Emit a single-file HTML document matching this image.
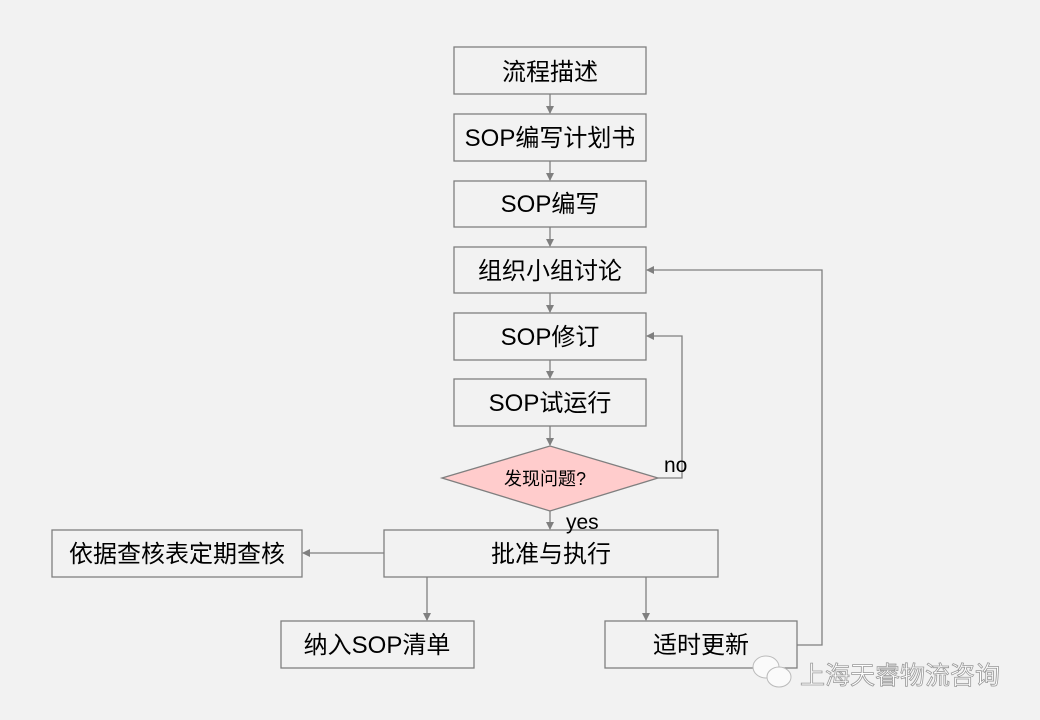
<!DOCTYPE html>
<html><head><meta charset="utf-8"><style>
html,body{margin:0;padding:0;background:#f2f2f2;}
svg{display:block;}
text{font-family:"Liberation Sans","Noto Sans CJK SC",sans-serif;fill:#000;}
</style></head><body>
<svg width="1040" height="720" viewBox="0 0 1040 720" xmlns="http://www.w3.org/2000/svg">
<defs><marker id="a" markerWidth="8" markerHeight="8" refX="7" refY="4" orient="auto" markerUnits="userSpaceOnUse"><path d="M0,0 L8,4 L0,8 z" fill="#7f7f7f"/></marker></defs>
<rect width="1040" height="720" fill="#f2f2f2"/>
<g fill="#f2f2f2" stroke="#7f7f7f" stroke-width="1.3">
<rect x="454" y="47" width="192" height="47"/>
<rect x="454" y="114" width="192" height="47"/>
<rect x="454" y="181" width="192" height="46"/>
<rect x="454" y="247" width="192" height="46"/>
<rect x="454" y="313" width="192" height="47"/>
<rect x="454" y="379" width="192" height="47"/>
<rect x="384" y="530" width="334" height="47"/>
<rect x="52" y="530" width="250" height="47"/>
<rect x="281" y="621" width="193" height="47"/>
<rect x="605" y="621" width="192" height="47"/>
<polygon points="442,478 550,446 658,478 550,511" fill="#ffcccc"/>
</g>
<g stroke="#7f7f7f" stroke-width="1.3" fill="none" marker-end="url(#a)">
<line x1="550" y1="94" x2="550" y2="113"/>
<line x1="550" y1="161" x2="550" y2="180"/>
<line x1="550" y1="227" x2="550" y2="246"/>
<line x1="550" y1="293" x2="550" y2="312"/>
<line x1="550" y1="360" x2="550" y2="378"/>
<line x1="550" y1="426" x2="550" y2="445"/>
<line x1="550" y1="511" x2="550" y2="529"/>
<polyline points="658,478 682,478 682,336 647,336"/>
<polyline points="797,645 822,645 822,270 647,270"/>
<line x1="384" y1="553" x2="303" y2="553"/>
<line x1="427" y1="577" x2="427" y2="620"/>
<line x1="646" y1="577" x2="646" y2="620"/>
</g>
<g font-size="24" text-anchor="middle">
<text x="550" y="80">流程描述</text>
<text x="550" y="146">SOP编写计划书</text>
<text x="550" y="212">SOP编写</text>
<text x="550" y="279">组织小组讨论</text>
<text x="550" y="345">SOP修订</text>
<text x="550" y="411">SOP试运行</text>
<text x="551" y="562">批准与执行</text>
<text x="177" y="562">依据查核表定期查核</text>
<text x="377" y="653">纳入SOP清单</text>
<text x="701" y="653">适时更新</text>
</g>
<text x="545" y="485" font-size="18" text-anchor="middle">发现问题?</text>
<text x="664" y="472" font-size="21">no</text>
<text x="566" y="529" font-size="21">yes</text>
<g fill="#fafafa" stroke="#bbb" stroke-width="1">
<ellipse cx="766" cy="667" rx="13" ry="11"/>
<ellipse cx="779" cy="677" rx="12" ry="10"/>
</g>
<text x="800" y="684" font-size="25" stroke="#999" stroke-width="0.8" style="fill:#fff">上海天睿物流咨询</text>
</svg>
</body></html>
